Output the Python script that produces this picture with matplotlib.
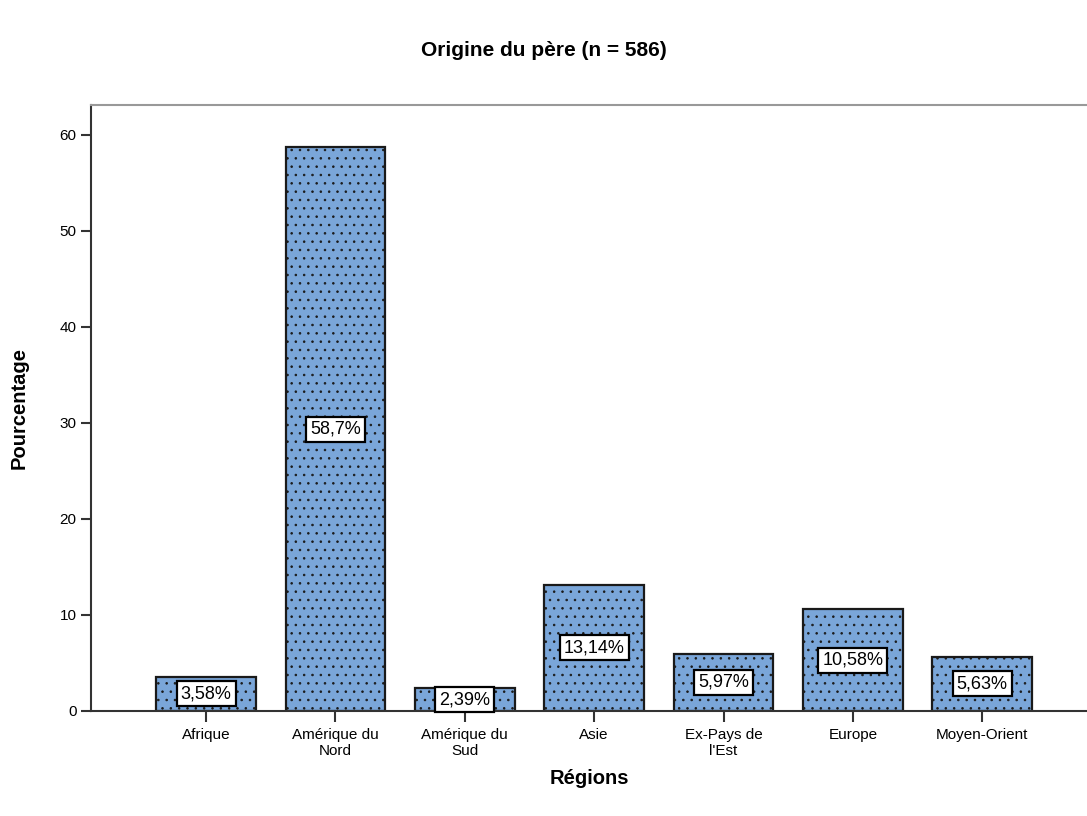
import numpy as np
import matplotlib.pyplot as plt

plt.rcParams['font.family'] = ['Liberation Sans', 'DejaVu Sans']
plt.rcParams['hatch.color'] = '#4a6688'
plt.rcParams['hatch.linewidth'] = 0.6

# données
regions = ['Afrique', 'Amérique du\nNord', 'Amérique du\nSud', 'Asie',
           "Ex-Pays de\nl'Est", 'Europe', 'Moyen-Orient']
pourcentages = [3.58, 58.7, 2.39, 13.14, 5.97, 10.58, 5.63]
etiquettes = ['3,58%', '58,7%', '2,39%', '13,14%', '5,97%', '10,58%', '5,63%']

fig = plt.figure(figsize=(10.87, 8.16), dpi=100)
ax = fig.add_axes([0.0837, 0.1287, 0.9163, 0.7426])

x = np.arange(len(regions))
ax.bar(x, pourcentages, width=0.77, color='#7aa6d9', edgecolor='#1a1a1a',
       linewidth=1.6, hatch='..', zorder=2)

for xi, v, t in zip(x, pourcentages, etiquettes):
    ax.text(xi, v / 2, t, ha='center', va='center', fontsize=13, zorder=3,
            bbox=dict(boxstyle='square,pad=0.22', fc='white', ec='black', lw=1.6))

ax.set_xlim(-0.89, 6.81)
ax.set_ylim(0, 63.1)
ax.set_yticks([0, 10, 20, 30, 40, 50, 60])
ax.set_xticks(x)
ax.set_xticklabels(regions, fontsize=11)
ax.tick_params(axis='y', labelsize=11, length=7, width=1.5, color='#333333')
ax.tick_params(axis='x', length=8, width=1.5, color='#333333', pad=4)

ax.spines['right'].set_visible(False)
ax.spines['top'].set_color('#999999')
ax.spines['top'].set_linewidth(1.5)
ax.spines['left'].set_color('#333333')
ax.spines['left'].set_linewidth(1.5)
ax.spines['bottom'].set_color('#333333')
ax.spines['bottom'].set_linewidth(1.5)

ax.set_ylabel('Pourcentage', fontsize=14.5, fontweight='bold', labelpad=22)
ax.set_xlabel('Régions', fontsize=14.5, fontweight='bold', labelpad=8)
fig.suptitle('Origine du père (n = 586)', fontsize=15, fontweight='bold', y=0.95)

fig.savefig('out.png', dpi=100)
